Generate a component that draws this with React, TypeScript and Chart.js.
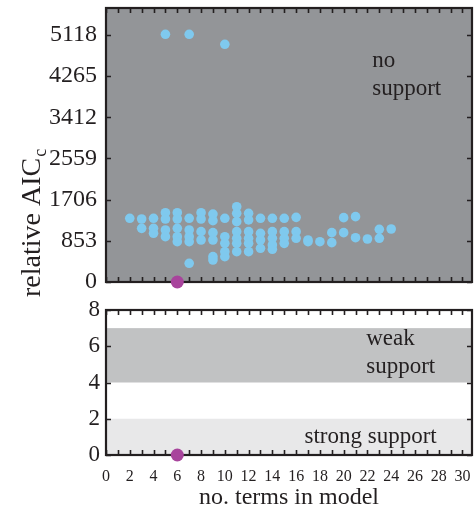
import React, { useEffect, useRef } from "react";
import { Chart, registerables } from "chart.js";

Chart.register(...registerables);

// Candidate models: number of terms and relative AICc
const termCounts = [
  2,
  3, 3,
  4, 4, 4,
  5, 5, 5, 5, 5,
  6, 6, 6, 6, 6,
  7, 7, 7, 7, 7, 7,
  8, 8, 8, 8,
  9, 9, 9, 9, 9, 9,
  10, 10, 10, 10, 10, 10,
  11, 11, 11, 11, 11, 11, 11,
  12, 12, 12, 12, 12, 12,
  13, 13, 13, 13,
  14, 14, 14, 14, 14,
  15, 15, 15, 15,
  16, 16, 16,
  17, 17,
  18,
  19, 19,
  20, 20,
  21, 21,
  22,
  23, 23,
  24,
];
const relativeAicc = [
  1320,
  1305, 1112,
  1320, 1112, 1009,
  5132, 1436, 1305, 1077, 939,
  1436, 1305, 1112, 939, 835,
  5132, 1320, 1077, 939, 835, 387,
  1436, 1305, 1043, 870,
  1408, 1271, 1022, 870, 525, 456,
  4925, 1320, 939, 801, 628, 525,
  1560, 1422, 1250, 1043, 905, 801, 628,
  1422, 1285, 1043, 905, 801, 628,
  1320, 1009, 870, 698,
  1320, 1043, 905, 767, 677,
  1320, 1043, 905, 801,
  1340, 1043, 905,
  870, 835,
  835,
  1022, 815,
  1333, 1022,
  1354, 918,
  891,
  1091, 905,
  1098,
];

// Best model (delta AICc = 0)
const bestTerms = [6];
const bestDelta = [0];

const aiccTicks = [0, 853, 1706, 2559, 3412, 4265, 5118];
const aiccMax = 5677;
const deltaTicks = [0, 2, 4, 6, 8];
const termTicks = [0, 2, 4, 6, 8, 10, 12, 14, 16, 18, 20, 22, 24, 26, 28, 30];
const termMax = 30.8;

const strongBand = [0, 2];
const weakBand = [4, 7];

const INK = "#231f20";
const SERIF = "'Liberation Serif', 'Times New Roman', serif";
const BLUE = "#7fc9ee";
const PURPLE = "#a8449c";

type Band = { range: number[]; color: string };
type Label = { lines: string[]; x: number; y: number[] };

function panelPlugin(opts: {
  fill?: string;
  bands?: Band[];
  yTicks: number[];
  labels: Label[];
  yTitle?: boolean;
}) {
  return {
    id: "panel",
    beforeDatasetsDraw(chart: any) {
      const { ctx, chartArea: a, scales } = chart;
      const xs = scales.x;
      const ys = scales.y;
      ctx.save();
      if (opts.fill) {
        ctx.fillStyle = opts.fill;
        ctx.fillRect(a.left, a.top, a.right - a.left, a.bottom - a.top);
      }
      (opts.bands || []).forEach((b) => {
        const y1 = ys.getPixelForValue(b.range[1]);
        const y0 = ys.getPixelForValue(b.range[0]);
        ctx.fillStyle = b.color;
        ctx.fillRect(a.left, y1, a.right - a.left, y0 - y1);
      });
      ctx.strokeStyle = INK;
      ctx.lineWidth = 1.6;
      ctx.beginPath();
      for (let v = Math.ceil(xs.min); v <= xs.max; v++) {
        const px = Math.round(xs.getPixelForValue(v)) + 0.5;
        ctx.moveTo(px, a.bottom);
        ctx.lineTo(px, a.bottom - 5);
        ctx.moveTo(px, a.top);
        ctx.lineTo(px, a.top + 5);
      }
      opts.yTicks.forEach((v) => {
        const py = Math.round(ys.getPixelForValue(v)) + 0.5;
        ctx.moveTo(a.left, py);
        ctx.lineTo(a.left + 5, py);
        ctx.moveTo(a.right, py);
        ctx.lineTo(a.right - 5, py);
      });
      ctx.stroke();
      ctx.lineWidth = 2.2;
      ctx.strokeRect(a.left, a.top, a.right - a.left, a.bottom - a.top);
      ctx.restore();
    },
    afterDatasetsDraw(chart: any) {
      const { ctx, chartArea: a, scales } = chart;
      ctx.save();
      ctx.fillStyle = INK;
      ctx.textBaseline = "alphabetic";
      ctx.textAlign = "left";
      ctx.font = `23px ${SERIF}`;
      opts.labels.forEach((l) => {
        const px = scales.x.getPixelForValue(l.x);
        l.lines.forEach((t, i) => {
          ctx.fillText(t, px, scales.y.getPixelForValue(l.y[i]));
        });
      });
      if (opts.yTitle) {
        ctx.translate(40, a.bottom + 15);
        ctx.rotate(-Math.PI / 2);
        ctx.font = `28px ${SERIF}`;
        const main = "relative AIC";
        ctx.fillText(main, 0, 0);
        const w = ctx.measureText(main).width;
        ctx.font = `18px ${SERIF}`;
        ctx.fillText("c", w + 1, 6);
      }
      ctx.restore();
    },
  };
}

const plainNumber = (v: any) => String(v);

// Keep the plot area exactly where the layout padding puts it
const noLabelPadding = (s: any) => {
  s.paddingTop = 0;
  s.paddingBottom = 0;
  s.paddingLeft = 0;
  s.paddingRight = 0;
};

export default function App() {
  const topRef = useRef<HTMLCanvasElement>(null);
  const bottomRef = useRef<HTMLCanvasElement>(null);

  useEffect(() => {
    const models = termCounts.map((t, i) => ({ x: t, y: relativeAicc[i] }));
    const best = bestTerms.map((t, i) => ({ x: t, y: bestDelta[i] }));

    const top = new Chart(topRef.current!, {
      type: "scatter",
      data: {
        datasets: [
          {
            data: best,
            backgroundColor: PURPLE,
            borderWidth: 0,
            pointRadius: 6.5,
            clip: false,
          } as any,
          {
            data: models,
            backgroundColor: BLUE,
            borderWidth: 0,
            pointRadius: 4.8,
          },
        ],
      },
      options: {
        animation: false,
        responsive: false,
        devicePixelRatio: 1,
        layout: {
          autoPadding: false,
          padding: { left: 0, right: 3, top: 8, bottom: 18 },
        },
        plugins: { legend: { display: false }, tooltip: { enabled: false } },
        scales: {
          x: { type: "linear", min: 0, max: termMax, display: false },
          y: {
            type: "linear",
            min: 0,
            max: aiccMax,
            grid: { display: false, drawTicks: false },
            border: { display: false },
            afterBuildTicks: (s: any) => {
              s.ticks = aiccTicks.map((v) => ({ value: v }));
            },
            afterFit: (s: any) => {
              s.width = 106;
              noLabelPadding(s);
            },
            ticks: {
              color: INK,
              padding: 9,
              callback: plainNumber,
              font: { family: SERIF, size: 24 },
            },
          },
        },
      } as any,
      plugins: [
        panelPlugin({
          fill: "#939598",
          yTicks: aiccTicks,
          labels: [{ lines: ["no", "support"], x: 22.4, y: [4460, 3875] }],
          yTitle: true,
        }),
      ],
    });

    const bottom = new Chart(bottomRef.current!, {
      type: "scatter",
      data: {
        datasets: [
          {
            data: best,
            backgroundColor: PURPLE,
            borderWidth: 0,
            pointRadius: 6.5,
            clip: false,
          } as any,
        ],
      },
      options: {
        animation: false,
        responsive: false,
        devicePixelRatio: 1,
        layout: {
          autoPadding: false,
          padding: { left: 0, right: 3, top: 20, bottom: 0 },
        },
        plugins: { legend: { display: false }, tooltip: { enabled: false } },
        scales: {
          x: {
            type: "linear",
            min: 0,
            max: termMax,
            grid: { display: false, drawTicks: false },
            border: { display: false },
            afterBuildTicks: (s: any) => {
              s.ticks = termTicks.map((v) => ({ value: v }));
            },
            afterFit: (s: any) => {
              s.height = 54;
              noLabelPadding(s);
            },
            ticks: {
              color: INK,
              padding: 12,
              maxRotation: 0,
              autoSkip: false,
              callback: plainNumber,
              font: { family: SERIF, size: 16 },
            },
            title: {
              display: true,
              text: "no. terms in model",
              color: INK,
              padding: { top: 0, bottom: -3 },
              font: { family: SERIF, size: 24 },
            },
          },
          y: {
            type: "linear",
            min: 0,
            max: 8,
            grid: { display: false, drawTicks: false },
            border: { display: false },
            afterBuildTicks: (s: any) => {
              s.ticks = deltaTicks.map((v) => ({ value: v }));
            },
            afterFit: (s: any) => {
              s.width = 106;
              noLabelPadding(s);
            },
            ticks: {
              color: INK,
              padding: 6,
              callback: plainNumber,
              font: { family: SERIF, size: 23 },
            },
          },
        },
      } as any,
      plugins: [
        panelPlugin({
          bands: [
            { range: strongBand, color: "#e8e8e9" },
            { range: weakBand, color: "#c1c2c3" },
          ],
          yTicks: deltaTicks,
          labels: [
            { lines: ["weak", "support"], x: 21.9, y: [6.08, 4.53] },
            { lines: ["strong support"], x: 16.7, y: [0.66] },
          ],
        }),
      ],
    });

    return () => {
      top.destroy();
      bottom.destroy();
    };
  }, []);

  return (
    <div
      style={{
        position: "absolute",
        left: 0,
        top: 0,
        width: 475,
        height: 509,
        background: "#fff",
      }}
    >
      <canvas
        ref={topRef}
        width={475}
        height={300}
        style={{ position: "absolute", left: 0, top: 0 }}
      />
      <canvas
        ref={bottomRef}
        width={475}
        height={219}
        style={{ position: "absolute", left: 0, top: 290 }}
      />
    </div>
  );
}
